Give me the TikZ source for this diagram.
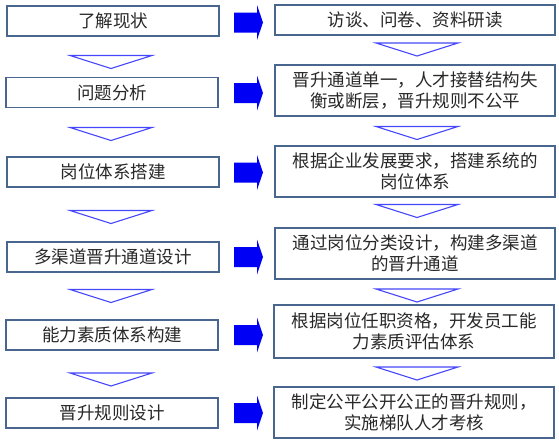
\documentclass[tikz,border=0pt]{standalone}
\usepackage{fontspec}
\setmainfont{Noto Sans CJK SC}
\usetikzlibrary{positioning}
\definecolor{boxline}{RGB}{72,102,142}
\definecolor{chevblue}{RGB}{70,70,250}
\definecolor{arrblue}{RGB}{0,0,245}
\definecolor{txtgray}{RGB}{40,40,40}

\begin{document}
\begin{tikzpicture}[
    x=1pt, y=-1pt,
    stepl/.style={rectangle, draw=boxline, line width=1.4pt, fill=white, minimum width=212pt, minimum height=30pt, inner sep=0pt, font=\fontsize{17.5}{21}\selectfont, text=txtgray, align=center},
    stepr/.style={rectangle, draw=boxline, line width=1.4pt, fill=white, minimum width=280pt, minimum height=51pt, inner sep=0pt, font=\fontsize{17.5}{21}\selectfont, text=txtgray, align=center},
    chev/.pic={\draw[chevblue, line width=1.1pt, line join=miter] (-41,-6.5) -- (41,-6.5) -- (0,6.5) -- cycle;},
    blockarr/.pic={\fill[arrblue] (-14.5,-10) -- (8.5,-10) -- (8.5,-17.5) -- (14.5,0) -- (8.5,17.5) -- (8.5,10) -- (-14.5,10) -- cycle;}
]
    \useasboundingbox (0,0) rectangle (559,442);

    % left column
    \node[stepl] (l1) at (113,21) {了解现状};
    \node[stepl] (l2) at (112,92.5) {问题分析};
    \node[stepl] (l3) at (113,172) {岗位体系搭建};
    \node[stepl] (l4) at (113,257) {多渠道晋升通道设计};
    \node[stepl] (l5) at (112,335) {能力素质体系构建};
    \node[stepl] (l6) at (112,413) {晋升规则设计};

    % right column
    \node[stepr, minimum height=30pt] (r1) at (415,20) {访谈、问卷、资料研读};
    \node[stepr] (r2) at (415,90.5) {晋升通道单一，人才接替结构失\\衡或断层，晋升规则不公平};
    \node[stepr] (r3) at (415,171.5) {根据企业发展要求，搭建系统的\\岗位体系};
    \node[stepr] (r4) at (415,253.5) {通过岗位分类设计，构建多渠道\\的晋升通道};
    \node[stepr, minimum height=53pt] (r5) at (414,331.5) {根据岗位任职资格，开发员工能\\力素质评估体系};
    \node[stepr] (r6) at (414,412.5) {制定公平公开公正的晋升规则，\\实施梯队人才考核};

    % down chevrons
    \pic at (111,62) {chev};
    \pic at (111,134) {chev};
    \pic at (111,217) {chev};
    \pic at (111,296) {chev};
    \pic at (111,379.5) {chev};
    \pic at (417,49.5) {chev};
    \pic at (417,133) {chev};
    \pic at (417,211) {chev};
    \pic at (417,295.5) {chev};
    \pic at (417,373.5) {chev};

    % block arrows
    \pic at (248.5,22.5) {blockarr};
    \pic at (248.5,93) {blockarr};
    \pic at (248.5,172.5) {blockarr};
    \pic at (248.5,257) {blockarr};
    \pic at (248.5,335) {blockarr};
    \pic at (248.5,413) {blockarr};
\end{tikzpicture}
\end{document}
